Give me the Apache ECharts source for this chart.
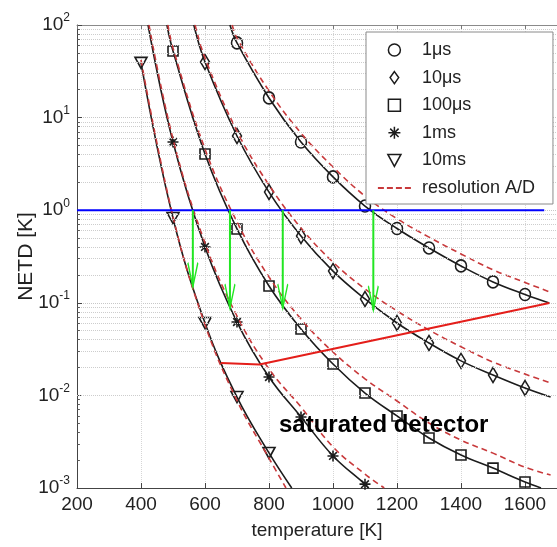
<!DOCTYPE html>
<html>
<head>
<meta charset="utf-8">
<script src="https://cdn.jsdelivr.net/npm/echarts@6/dist/echarts.min.js"></script>
<style>
  html, body { margin: 0; padding: 0; background: #fff; }
  #chart { width: 557px; height: 547px; }
</style>
</head>
<body>
<div id="chart"></div>
<script>
const FONT = '"Liberation Sans", Arial, Helvetica, sans-serif';

// ---- axis settings -------------------------------------------------------
const xMin = 200, xMax = 1700, xStep = 200;
const yMin = 0.001, yMax = 100;
const decades = [0.001, 0.01, 0.1, 1, 10];
const minorFactors = [2, 3, 4, 5, 6, 7, 8, 9];

// ---- legend labels -------------------------------------------------------
const timeNames = ['1μs', '10μs', '100μs', '1ms', '10ms'];
const resolutionName = 'resolution A/D';

// ---- NETD curves: [temperature K, NETD K] --------------------------------
// Points where a curve leaves the frame carry no marker.
const netd1usStart = [678, 100];
const netd1us = [[700, 64], [800, 16.3], [900, 5.45], [1000, 2.29], [1100, 1.11], [1200, 0.634],
                 [1300, 0.391], [1400, 0.25], [1500, 0.168], [1600, 0.123]];
const netd1usEnd = [1676, 0.0995];

const netd10usStart = [565, 100];
const netd10us = [[600, 39.8], [700, 6.33], [800, 1.57], [900, 0.526], [1000, 0.22], [1100, 0.11],
                  [1200, 0.0605], [1300, 0.0368], [1400, 0.0236], [1500, 0.0166], [1600, 0.012]];
const netd10usEnd = [1680, 0.0096];

const netd100usStart = [481, 100];
const netd100us = [[500, 52.4], [600, 4.05], [700, 0.627], [800, 0.152], [900, 0.0521], [1000, 0.0218],
                   [1100, 0.0106], [1200, 0.006], [1300, 0.00347], [1400, 0.00227], [1500, 0.00164], [1600, 0.00116]];
const netd100usEnd = [1650, 0.001];

const netd1msStart = [422, 100];
const netd1ms = [[500, 5.45], [600, 0.401], [700, 0.062], [800, 0.0158], [900, 0.00585], [1000, 0.00222], [1100, 0.0011]];
const netd1msEnd = [1110, 0.001];

const netd10ms = [[400, 39], [500, 0.824], [600, 0.0605], [700, 0.0096], [800, 0.00239]];
const netd10msEnd = [871, 0.001];

// ---- A/D resolution limited curves (dashed) ------------------------------
const res1us = [[685, 100], [700, 72], [800, 19.4], [900, 6.8], [1000, 2.93], [1100, 1.42], [1200, 0.81],
                [1300, 0.512], [1400, 0.337], [1500, 0.227], [1600, 0.166], [1680, 0.13]];
const res10us = [[569, 100], [600, 44], [700, 7.15], [800, 1.87], [900, 0.642], [1000, 0.275], [1100, 0.141],
                 [1200, 0.0817], [1300, 0.0508], [1400, 0.0335], [1500, 0.0229], [1600, 0.017], [1680, 0.0136]];
const res100us = [[484, 100], [500, 56.4], [600, 4.58], [700, 0.746], [800, 0.19], [900, 0.0667], [1000, 0.0294],
                  [1100, 0.0151], [1200, 0.0087], [1300, 0.00503], [1400, 0.00329], [1500, 0.00238], [1600, 0.00168], [1680, 0.00138]];
const res1ms = [[425, 100], [500, 5.87], [600, 0.443], [700, 0.072], [800, 0.0193], [900, 0.0075],
                [1000, 0.00278], [1100, 0.00141], [1160, 0.001]];
const res10ms = [[400, 42], [500, 0.85], [600, 0.058], [700, 0.0088], [800, 0.0021], [853, 0.001]];

// ---- reference lines -----------------------------------------------------
const netdLimit = [[200, 1], [1660, 1]];                            // 1 K requirement
const saturation = [[650, 0.0224], [770, 0.0216], [1676, 0.0995]];  // saturated detector boundary
const arrowTemps = [562, 678, 843, 1126];
const arrowTips = [0.149, 0.0876, 0.0876, 0.0836];

// ---- marker shapes -------------------------------------------------------
const SYM_DIAMOND = 'path://M5,0L10,7L5,14L0,7Z';
const SYM_SQUARE = 'path://M0,0L10,0L10,10L0,10Z';
const SYM_STAR = 'path://M5,0L5,10M0,5L10,5M1.5,1.5L8.5,8.5M8.5,1.5L1.5,8.5';
const SYM_TRI_DOWN = 'path://M0,0L12,0L6,11Z';
const SYM_ARROW = 'path://M0,0L5,24L10,0';
const ICON_DASH = 'path://M0,0M33,12M0,6L6,6M9,6L15,6M18,6L24,6M27,6L33,6';

const markerDefs = [
  { name: timeNames[0], start: netd1usStart, pts: netd1us, end: netd1usEnd, symbol: 'circle', size: [11, 12] },
  { name: timeNames[1], start: netd10usStart, pts: netd10us, end: netd10usEnd, symbol: SYM_DIAMOND, size: [9, 15] },
  { name: timeNames[2], start: netd100usStart, pts: netd100us, end: netd100usEnd, symbol: SYM_SQUARE, size: [10, 10] },
  { name: timeNames[3], start: netd1msStart, pts: netd1ms, end: netd1msEnd, symbol: SYM_STAR, size: [11, 11] },
  { name: timeNames[4], start: null, pts: netd10ms, end: netd10msEnd, symbol: SYM_TRI_DOWN, size: [12, 11] }
];
const resolutionCurves = [res1us, res10us, res100us, res1ms, res10ms];

const BLACK = '#1c1c1c';
const DASH_RED = '#c8393b';
const MARKER_STYLE = { color: 'rgba(0,0,0,0)', borderColor: BLACK, borderWidth: 1.6 };

function curveData(start, pts, end) {
  const out = [];
  if (start) out.push({ value: start, symbol: 'none' });
  pts.forEach(p => out.push(p));
  if (end) out.push({ value: end, symbol: 'none' });
  return out;
}

// dotted minor grid at 2..9 x 10^k, plus short inward minor ticks on the left axis
const minorValues = [];
decades.forEach(d => minorFactors.forEach(f => minorValues.push(+(d * f).toPrecision(3))));

const series = [];

series.push({
  name: 'minorGrid', type: 'line', data: [], silent: true, z: 1,
  markLine: {
    silent: true, symbol: ['none', 'none'], label: { show: false }, animation: false,
    lineStyle: { color: '#cdcdcd', width: 1, type: [1, 1] },
    emphasis: { disabled: true },
    data: minorValues.map(v => ({ yAxis: v }))
  }
});
series.push({
  name: 'minorTicks', type: 'line', data: [], silent: true, z: 2,
  markLine: {
    silent: true, symbol: ['none', 'none'], label: { show: false }, animation: false,
    lineStyle: { color: '#555', width: 1, type: 'solid' },
    emphasis: { disabled: true },
    data: minorValues.map(v => [{ coord: [xMin, v] }, { coord: [xMin + 9, v] }])
  }
});

markerDefs.forEach(def => {
  series.push({
    name: def.name, type: 'line', z: 3,
    data: curveData(def.start, def.pts, def.end),
    smooth: 0.4,
    symbol: def.symbol, symbolSize: def.size, symbolKeepAspect: false,
    showSymbol: true, showAllSymbol: true,
    lineStyle: { color: BLACK, width: 1.6 },
    itemStyle: MARKER_STYLE,
    silent: true
  });
});

resolutionCurves.forEach(curve => {
  series.push({
    name: resolutionName, type: 'line', z: 4,
    data: curve, smooth: 0.4, symbol: 'none',
    lineStyle: { color: DASH_RED, width: 1.6, type: [6, 4] },
    itemStyle: { color: DASH_RED },
    silent: true
  });
});

series.push({
  name: 'netdLimit', type: 'line', z: 5, data: netdLimit, symbol: 'none',
  lineStyle: { color: '#0000ff', width: 2 }, silent: true
});

series.push({
  name: 'saturation', type: 'line', z: 6, data: saturation, symbol: 'none',
  lineStyle: { color: '#e41e1a', width: 2 }, silent: true
});

arrowTemps.forEach((t, i) => {
  series.push({
    name: 'arrow' + i, type: 'line', z: 7, silent: true,
    data: [
      { value: [t, 1], symbol: 'none' },
      { value: [t, arrowTips[i]], symbol: SYM_ARROW, symbolSize: [10, 24], symbolOffset: [0, '-50%'] }
    ],
    symbolKeepAspect: false,
    lineStyle: { color: '#22e622', width: 2 },
    itemStyle: { color: 'rgba(0,0,0,0)', borderColor: '#22e622', borderWidth: 2 }
  });
});

const legendIcons = [
  { name: timeNames[0], icon: 'circle' },
  { name: timeNames[1], icon: SYM_DIAMOND },
  { name: timeNames[2], icon: SYM_SQUARE },
  { name: timeNames[3], icon: SYM_STAR },
  { name: timeNames[4], icon: SYM_TRI_DOWN }
].map(d => Object.assign(d, { itemStyle: { color: 'rgba(0,0,0,0)', borderColor: BLACK, borderWidth: 1.5 } }));
legendIcons.push({
  name: resolutionName, icon: ICON_DASH,
  itemStyle: { color: 'rgba(0,0,0,0)', borderColor: DASH_RED, borderWidth: 1.8 }
});

const option = {
  animation: false,
  backgroundColor: '#ffffff',
  grid: { left: 77, top: 25, width: 481, height: 463, containLabel: false },
  legend: {
    z: 20,
    orient: 'vertical', left: 366, top: 32,
    itemWidth: 33, itemHeight: 12, itemGap: 7.6,
    padding: [8, 18, 6, 11],
    backgroundColor: '#ffffff', borderColor: '#8a8a8a', borderWidth: 1,
    selectedMode: false,
    textStyle: { fontFamily: FONT, fontSize: 18, color: '#222', lineHeight: 20, padding: [0, 0, 0, 6] },
    data: legendIcons
  },
  xAxis: [{
    type: 'value', min: xMin, max: xMax, interval: xStep, position: 'bottom',
    name: 'temperature [K]', nameLocation: 'middle', nameGap: 33, nameMoveOverlap: false,
    nameTextStyle: { fontFamily: FONT, fontSize: 19, color: '#222' },
    axisLine: { show: true, lineStyle: { color: '#444', width: 1 } },
    axisTick: { show: true, inside: true, length: 5, lineStyle: { color: '#444' } },
    axisLabel: { fontFamily: FONT, fontSize: 19, color: '#222', margin: 7, showMaxLabel: false,
                 formatter: v => String(v) },
    splitLine: { show: true, lineStyle: { color: '#d6d6d6', width: 1, type: [1, 1] } }
  }, {
    type: 'value', min: xMin, max: xMax, interval: xStep, position: 'top',
    axisLine: { show: true, lineStyle: { color: '#8a8a8a', width: 1 } },
    axisTick: { show: true, inside: true, length: 4, lineStyle: { color: '#777' } },
    axisLabel: { show: false },
    splitLine: { show: false }
  }],
  yAxis: {
    type: 'log', logBase: 10, min: yMin, max: yMax,
    name: 'NETD [K]', nameLocation: 'middle', nameGap: 40, nameMoveOverlap: false,
    nameTextStyle: { fontFamily: FONT, fontSize: 21, color: '#222' },
    axisLine: { show: true, lineStyle: { color: '#444', width: 1 } },
    axisTick: { show: true, inside: true, length: 5, lineStyle: { color: '#444' } },
    axisLabel: {
      margin: 7,
      formatter: v => '{b|10}{e|' + Math.round(Math.log10(v)) + '}',
      rich: {
        b: { fontFamily: FONT, fontSize: 19, color: '#222' },
        e: { fontFamily: FONT, fontSize: 12, color: '#222', padding: [0, 0, 14, 0] }
      }
    },
    splitLine: { show: true, lineStyle: { color: '#c8c8c8', width: 1, type: [1, 1] } }
  },
  graphic: [{
    type: 'text', left: 279, top: 413, z: 100, silent: true,
    style: { text: 'saturated detector', font: 'bold 24px ' + FONT, fill: '#000' }
  }],
  series: series
};

const chart = echarts.init(document.getElementById('chart'));
chart.setOption(option);
</script>
</body>
</html>
